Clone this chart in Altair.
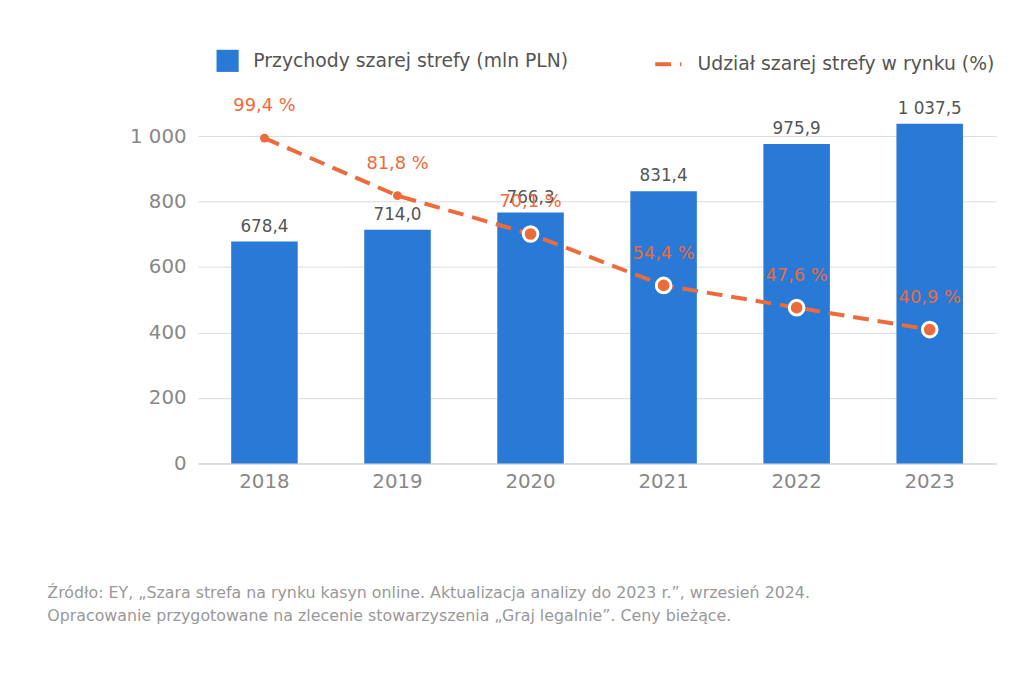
import altair as alt
import pandas as pd

years = ["2018", "2019", "2020", "2021", "2022", "2023"]
revenue = [678.4, 714.0, 766.3, 831.4, 975.9, 1037.5]
share = [99.4, 81.8, 70.1, 54.4, 47.6, 40.9]
ring = [False, False, True, True, True, True]

def fmt(v):
    return f"{v:,.1f}".replace(",", " ").replace(".", ",")

df = pd.DataFrame({
    "year": years,
    "rev": revenue,
    "revlab": [fmt(v) for v in revenue],
    "share10": [s * 10 for s in share],
    "sharelab": [f"{s:.1f}".replace(".", ",") + " %" for s in share],
    "ring": ring,
})

BLUE = "#2979D6"
ORANGE = "#EC6B3B"
FONT = "DejaVu Sans"
BAR = "Przychody szarej strefy (mln PLN)"
LINE = "Udział szarej strefy w rynku (%)"

x = alt.X("year:N", title=None, scale=alt.Scale(paddingInner=0.5, paddingOuter=0.25),
          axis=alt.Axis(labelAngle=0, labelFontSize=20, labelColor="#888", ticks=False,
                        domainColor="#ccc", labelPadding=8))
y = alt.Y("rev:Q", title=None, scale=alt.Scale(domain=[0, 1100], nice=False),
          axis=alt.Axis(values=[0, 200, 400, 600, 800, 1000], labelFontSize=20, labelColor="#888",
                        ticks=False, domain=False, gridColor="#ddd", labelPadding=12,
                        labelExpr="replace(format(datum.value, ',d'), ',', ' ')"))

base = alt.Chart(df)
bars = base.mark_bar(color=BLUE).encode(
    x=x, y=y,
    fill=alt.Fill("b:N", scale=alt.Scale(domain=[BAR], range=[BLUE]),
                  legend=alt.Legend(title=None, orient="none", legendX=18, legendY=-55, symbolType="square",
                                    symbolSize=500, labelFontSize=19, labelColor="#555", labelFont=FONT,
                                    labelLimit=0, labelOffset=14)),
).transform_calculate(b=f"'{BAR}'")
barlab = base.mark_text(dy=-15, fontSize=17, color="#555", font=FONT).encode(x="year:N", y="rev:Q", text="revlab:N")
line = base.mark_line(strokeWidth=4, strokeDash=[16, 9]).encode(
    x="year:N", y="share10:Q",
    stroke=alt.Stroke("l:N", scale=alt.Scale(domain=[LINE], range=[ORANGE]),
                      legend=alt.Legend(title=None, orient="none", legendX=460, legendY=-55, symbolType="stroke",
                                        symbolStrokeWidth=4, symbolSize=700, symbolDash=[16, 9],
                                        labelFontSize=19, labelColor="#555", labelFont=FONT,
                                        labelLimit=0, labelOffset=14)),
).transform_calculate(l=f"'{LINE}'")
dots = base.transform_filter("!datum.ring").mark_circle(size=80, color=ORANGE, opacity=1).encode(
    x="year:N", y="share10:Q")
rings = base.transform_filter("datum.ring").mark_point(size=220, filled=True, fill=ORANGE, stroke="white",
                                                      strokeWidth=3, opacity=1).encode(x="year:N", y="share10:Q")
linelab = base.mark_text(dy=-32, fontSize=18, color=ORANGE, font=FONT).encode(
    x="year:N", y="share10:Q", text="sharelab:N")

chart = alt.layer(bars, barlab, line, dots, rings, linelab).properties(
    width=807, height=364,
    padding={"left": 39, "top": 38, "right": 20, "bottom": 10},
    title=alt.TitleParams(
        ["Źródło: EY, „Szara strefa na rynku kasyn online. Aktualizacja analizy do 2023 r.”, wrzesień 2024.",
         "Opracowanie przygotowane na zlecenie stowarzyszenia „Graj legalnie”. Ceny bieżące."],
        orient="bottom", anchor="start", fontSize=16, fontWeight="normal", color="#999", font=FONT,
        offset=95, dx=-83, lineHeight=23),
).configure(font=FONT).configure_view(strokeWidth=0)

chart.save("out.html", embed_options={"renderer": "svg", "actions": False})
